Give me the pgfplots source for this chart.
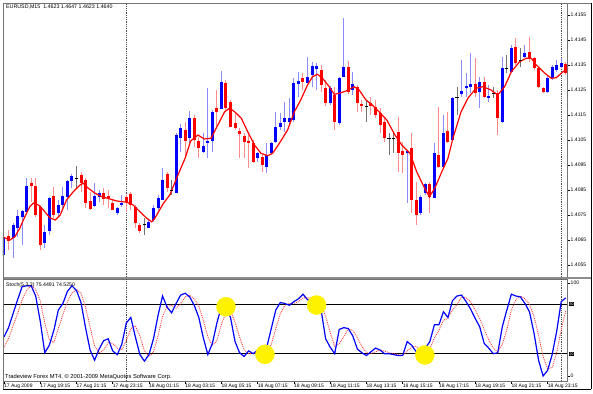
\documentclass[border=0pt]{standalone}
\usepackage{pgfplots}
\pgfplotsset{compat=1.18}
\usepackage{pgfplotstable}
\usepackage{fontspec}
\setmainfont{Liberation Sans}

% EURUSD M15 candles: bar index, open, high, low, close
\pgfplotstableread{
i o h l c
0 1.40590 1.40670 1.40530 1.40662
2 1.40658 1.40718 1.40578 1.40710
3 1.40698 1.40770 1.40662 1.40746
4 1.40742 1.40770 1.40630 1.40766
5 1.40762 1.40898 1.40762 1.40866
9 1.40638 1.40710 1.40618 1.40682
10 1.40686 1.40822 1.40670 1.40818
12 1.40758 1.40810 1.40742 1.40790
13 1.40790 1.40862 1.40770 1.40826
14 1.40822 1.40890 1.40770 1.40886
15 1.40886 1.40914 1.40858 1.40906
20 1.40786 1.40878 1.40782 1.40826
21 1.40822 1.40850 1.40802 1.40838
25 1.40758 1.40782 1.40750 1.40778
26 1.40790 1.40830 1.40782 1.40798
32 1.40698 1.40730 1.40698 1.40722
33 1.40730 1.40790 1.40722 1.40778
34 1.40778 1.40830 1.40770 1.40818
35 1.40810 1.40938 1.40810 1.40890
38 1.40838 1.41078 1.40838 1.41070
39 1.41058 1.41114 1.41002 1.41098
41 1.41058 1.41166 1.41038 1.41138
44 1.41002 1.41078 1.40998 1.41026
45 1.41038 1.41258 1.40978 1.41046
46 1.41046 1.41170 1.41002 1.41162
48 1.41174 1.41326 1.41174 1.41282
56 1.40978 1.41002 1.40962 1.40998
58 1.40942 1.41038 1.40918 1.40990
59 1.40998 1.41042 1.40990 1.41038
60 1.41042 1.41162 1.41038 1.41102
61 1.41102 1.41158 1.41090 1.41118
62 1.41122 1.41202 1.41082 1.41138
63 1.41122 1.41218 1.41110 1.41138
64 1.41130 1.41298 1.41122 1.41278
65 1.41274 1.41322 1.41222 1.41286
67 1.41278 1.41382 1.41278 1.41302
68 1.41310 1.41362 1.41262 1.41346
69 1.41334 1.41358 1.41250 1.41346
72 1.41198 1.41266 1.41190 1.41258
74 1.41118 1.41302 1.41110 1.41298
75 1.41302 1.41538 1.41302 1.41342
77 1.41250 1.41322 1.41230 1.41274
89 1.40998 1.41010 1.40798 1.41006
92 1.40758 1.40830 1.40750 1.40822
93 1.40838 1.40878 1.40830 1.40874
95 1.40818 1.41038 1.40818 1.40998
97 1.40942 1.41150 1.40938 1.41078
99 1.41050 1.41222 1.41050 1.41218
101 1.41234 1.41370 1.41222 1.41246
102 1.41258 1.41318 1.41222 1.41266
103 1.41262 1.41398 1.41238 1.41274
105 1.41242 1.41302 1.41178 1.41282
107 1.41218 1.41270 1.41202 1.41226
110 1.41122 1.41382 1.41118 1.41338
112 1.41322 1.41430 1.41322 1.41418
115 1.41382 1.41430 1.41378 1.41398
120 1.41242 1.41310 1.41238 1.41298
121 1.41298 1.41350 1.41290 1.41342
122 1.41330 1.41370 1.41322 1.41350
123 1.41342 1.41378 1.41338 1.41358
}\upcandles

\pgfplotstableread{
i o h l c
1 1.40666 1.40690 1.40610 1.40646
6 1.40878 1.40898 1.40802 1.40866
7 1.40866 1.40898 1.40742 1.40750
8 1.40782 1.40790 1.40610 1.40630
11 1.40826 1.40862 1.40738 1.40750
17 1.40910 1.40922 1.40842 1.40878
18 1.40890 1.40898 1.40778 1.40798
19 1.40806 1.40842 1.40770 1.40774
22 1.40838 1.40858 1.40790 1.40814
23 1.40826 1.40850 1.40778 1.40814
24 1.40798 1.40810 1.40770 1.40770
27 1.40822 1.40830 1.40762 1.40802
28 1.40834 1.40842 1.40770 1.40790
29 1.40782 1.40790 1.40698 1.40718
30 1.40710 1.40718 1.40678 1.40686
36 1.40914 1.40922 1.40842 1.40858
40 1.41090 1.41122 1.40978 1.41046
42 1.41138 1.41150 1.41022 1.41050
43 1.41046 1.41062 1.40978 1.41018
47 1.41178 1.41250 1.41102 1.41162
49 1.41278 1.41290 1.41170 1.41178
50 1.41202 1.41210 1.41102 1.41102
51 1.41118 1.41158 1.41090 1.41098
52 1.41086 1.41098 1.40978 1.41074
53 1.41066 1.41078 1.40978 1.41042
54 1.41046 1.41070 1.40938 1.41038
55 1.41038 1.41050 1.40958 1.40962
57 1.40982 1.40990 1.40922 1.40950
66 1.41298 1.41318 1.41250 1.41282
70 1.41330 1.41350 1.41242 1.41270
71 1.41258 1.41290 1.41186 1.41198
73 1.41230 1.41262 1.41090 1.41122
76 1.41342 1.41366 1.41234 1.41242
78 1.41262 1.41270 1.41162 1.41198
79 1.41194 1.41210 1.41162 1.41186
81 1.41198 1.41222 1.41150 1.41186
82 1.41182 1.41210 1.41138 1.41150
83 1.41158 1.41178 1.41078 1.41110
84 1.41122 1.41142 1.41042 1.41058
87 1.41082 1.41142 1.40922 1.40998
88 1.41006 1.41042 1.40918 1.40990
90 1.41018 1.41078 1.40758 1.40810
91 1.40810 1.40882 1.40710 1.40750
94 1.40874 1.40882 1.40758 1.40822
96 1.40990 1.41182 1.40938 1.40942
98 1.41086 1.41162 1.41038 1.41042
104 1.41274 1.41378 1.41222 1.41238
106 1.41282 1.41302 1.41218 1.41222
109 1.41238 1.41250 1.41070 1.41138
113 1.41422 1.41458 1.41350 1.41358
116 1.41402 1.41462 1.41362 1.41378
117 1.41378 1.41382 1.41330 1.41338
118 1.41338 1.41342 1.41258 1.41262
119 1.41258 1.41262 1.41238 1.41242
124 1.41354 1.41362 1.41310 1.41318
}\downcandles

\pgfplotstableread{
i o h l c
16 1.40898 1.40946 1.40858 1.40898
31 1.40714 1.40738 1.40670 1.40714
37 1.40850 1.40890 1.40830 1.40850
80 1.41186 1.41210 1.41122 1.41186
85 1.41058 1.41078 1.40990 1.41058
86 1.41058 1.41078 1.40998 1.41058
100 1.41222 1.41262 1.41150 1.41222
108 1.41238 1.41262 1.41218 1.41238
111 1.41338 1.41390 1.41318 1.41338
114 1.41370 1.41418 1.41342 1.41370
}\dojicandles

\pgfplotsset{
  mt/.style={scale only axis, width=564pt,
    xmin=-0.22, xmax=124.28,
    axis line style={black!55, line width=0.8pt},
    tick style={black, line width=0.5pt},
    tick align=outside, major tick length=2.5pt,
    ticklabel style={font=\fontsize{5.1}{6}\selectfont},
    scaled y ticks=false},
}

\begin{document}
\begin{tikzpicture}

% ---------------- main price window ----------------
\begin{axis}[mt, at={(3pt,116pt)}, anchor=south west, height=274pt,
  ymin=1.40502, ymax=1.41598,
  xtick=\empty,
  ytick={1.4055,1.4065,1.4075,1.4085,1.4095,1.4105,1.4115,1.4125,1.4135,1.4145,1.4155},
  yticklabels={1.4055,1.4065,1.4075,1.4085,1.4095,1.4105,1.4115,1.4125,1.4135,1.4145,1.4155},
  ytick pos=right, yticklabel pos=right,
  yticklabel style={anchor=west, inner sep=1pt}]
\addplot[black!70, densely dotted, line width=0.8pt] coordinates {(27,1.40502) (27,1.41598)};
\addplot[black!70, densely dotted, line width=0.8pt] coordinates {(123,1.40502) (123,1.41598)};
% wicks (low to high)
\addplot[blue!45, line width=1pt, quiver={u=0, v=\thisrow{h}-\thisrow{l}}] table[x=i, y=l] {\upcandles};
\addplot[red!45, line width=1pt, quiver={u=0, v=\thisrow{h}-\thisrow{l}}] table[x=i, y=l] {\downcandles};
\addplot[black!55, line width=1pt, quiver={u=0, v=\thisrow{h}-\thisrow{l}}] table[x=i, y=l] {\dojicandles};
% bodies (open to close)
\addplot[blue, line width=3pt, quiver={u=0, v=\thisrow{c}-\thisrow{o}}] table[x=i, y=o] {\upcandles};
\addplot[red, line width=3pt, quiver={u=0, v=\thisrow{c}-\thisrow{o}}] table[x=i, y=o] {\downcandles};
\addplot[only marks, mark=-, mark size=1.6pt, black, line width=0.8pt] table[x=i, y=c] {\dojicandles};
% moving average
\addplot[red, line width=1.2pt] coordinates {
(-0.22,1.40662)(1.3,1.40650)(2.4,1.40663)(3.5,1.40698)(4.6,1.40743)(5.7,1.40783)(6.5,1.40798)(7.6,1.40790)(8.7,1.40770)(10.1,1.40739)(11.3,1.40730)(12.4,1.40750)(13.8,1.40810)(15.3,1.40843)(16.8,1.40870)(17.5,1.40877)(18.6,1.40857)(20.1,1.40837)(21.6,1.40823)(23.4,1.40814)(24.9,1.40806)(27.1,1.40801)(28.5,1.40790)(30,1.40763)(31.5,1.40737)(32.6,1.40723)(33.3,1.40737)(35.2,1.40797)(36.6,1.40830)(38.1,1.40897)(40,1.40978)(41.2,1.41046)(42.8,1.41070)(44.2,1.41054)(45.7,1.41057)(47.2,1.41110)(48.7,1.41163)(49.8,1.41177)(50.9,1.41163)(52.4,1.41137)(53.8,1.41083)(55.3,1.41030)(56.7,1.40997)(58.2,1.40987)(59.3,1.40997)(60.8,1.41037)(62.6,1.41090)(64.1,1.41163)(65.5,1.41210)(67,1.41270)(68.1,1.41303)(69.2,1.41313)(70.3,1.41297)(71.8,1.41263)(72.9,1.41233)(74,1.41237)(75.5,1.41246)(77.3,1.41263)(78.4,1.41250)(79.9,1.41210)(81.3,1.41190)(82.8,1.41163)(84.5,1.41130)(86.3,1.41070)(87.8,1.41030)(89.6,1.40997)(91.1,1.40923)(92.5,1.40870)(93.9,1.40823)(95.1,1.40857)(96.5,1.40917)(98,1.40977)(99.1,1.41057)(100.9,1.41163)(102.4,1.41217)(104.2,1.41257)(105.7,1.41263)(107.5,1.41250)(109,1.41230)(110.5,1.41263)(112,1.41323)(113.8,1.41363)(115.3,1.41377)(116.4,1.41377)(117.5,1.41350)(119.4,1.41317)(120.8,1.41297)(121.9,1.41299)(123.4,1.41323)(124.28,1.41333)};
\end{axis}

% ---------------- stochastic window ----------------
\begin{axis}[mt, at={(3pt,12pt)}, anchor=south west, height=102pt,
  ymin=-5.38, ymax=104.3,
  ytick={0,100}, yticklabels={0,100},
  ytick pos=right, yticklabel pos=right,
  yticklabel style={anchor=west, inner sep=1pt},
  xtick={0,8,16,24,32,40,48,56,64,72,80,88,96,104,112,120},
  xticklabels={17 Aug 2009,17 Aug 19:15,17 Aug 21:15,17 Aug 23:15,18 Aug 01:15,18 Aug 03:15,18 Aug 05:15,18 Aug 07:15,18 Aug 09:15,18 Aug 11:15,18 Aug 13:15,18 Aug 15:15,18 Aug 17:15,18 Aug 19:15,18 Aug 21:15,18 Aug 23:15},
  xtick pos=bottom,
  xticklabel style={anchor=north west, inner sep=0.5pt, xshift=-0.5pt, font=\fontsize{5}{6}\selectfont}]
\addplot[only marks, mark=*, mark size=9.5pt, color=yellow, fill=yellow] coordinates {(49,74.5) (57.6,23.3) (69,76.3) (92.9,22.6)};
\addplot[black, line width=1pt] coordinates {(-0.22,77.4) (124.28,77.4)};
\addplot[black, line width=1pt] coordinates {(-0.22,23.7) (124.28,23.7)};
\addplot[black!70, densely dotted, line width=0.8pt] coordinates {(27,-5.38) (27,104.3)};
\addplot[black!70, densely dotted, line width=0.8pt] coordinates {(123,-5.38) (123,104.3)};
% signal line
\addplot[red!75, densely dotted, line width=0.9pt] coordinates {
(0,31)(1,40)(2,54)(3,67)(4,82)(5,92)(6,97)(7,93)(8,81)(9,57)(10,39)(11,36)(12,51)(13,66)(14,80)(15,89)(16,93)(17,89)(18,74)(19,53)(20,32)(21,25)(22,28)(23,36)(24,35)(25,30)(26,28)(27,38)(28,51)(29,54)(30,43)(31,27)(32,21)(33,26)(34,43)(35,64)(36,75)(37,76)(38,73)(39,78)(40,85)(41,87)(42,83)(43,75)(44,60)(45,42)(46,33)(47,38)(48,56)(49,68)(50,70)(51,58)(52,42)(53,28)(54,24)(55,24)(56,26)(57,24)(58,26)(59,34)(60,51)(61,67)(62,76)(63,78)(64,78)(65,80)(66,84)(67,84)(68,84)(69,81)(70,77)(71,64)(72,47)(73,32)(74,35)(75,42)(76,51)(77,49)(78,41)(79,32)(80,25)(81,24)(82,26)(83,28)(84,27)(85,25)(86,24)(87,23)(88,22)(89,27)(90,31)(91,32)(92,26)(93,25)(94,29)(95,41)(96,49)(97,60)(98,62)(99,71)(100,77)(101,85)(102,84)(103,80)(104,71)(105,62)(106,50)(107,39)(108,30)(109,26)(110,34)(111,50)(112,71)(113,82)(114,86)(115,83)(116,77)(117,64)(118,44)(119,21)(120,8)(121,9)(122,25)(123,50)(124,70)};
% main line
\addplot[blue, line width=1.2pt] coordinates {
(0,42)(1,52)(2,67)(3,82)(4,96)(5,97)(6,97)(7,86)(8,59)(9,25)(10,33)(11,49)(12,71)(13,78)(14,91)(15,97)(16,92)(17,79)(18,52)(19,28)(20,17)(21,29)(22,38)(23,40)(24,27)(25,23)(26,34)(27,57)(28,63)(29,42)(30,23)(31,16)(32,23)(33,40)(34,65)(35,86)(36,74)(37,68)(38,78)(39,87)(40,89)(41,85)(42,76)(43,63)(44,41)(45,23)(46,35)(47,57)(48,75)(49,73)(50,63)(51,37)(52,25)(53,21)(54,27)(55,24)(56,28)(57,19)(58,31)(59,51)(60,71)(61,79)(62,78)(63,76)(64,80)(65,83)(66,88)(67,82)(68,81)(69,80)(70,71)(71,40)(72,31)(73,24)(74,50)(75,52)(76,51)(77,43)(78,29)(79,25)(80,22)(81,26)(82,30)(83,28)(84,24)(85,24)(86,23)(87,22)(88,22)(89,37)(90,33)(91,26)(92,19)(93,30)(94,37)(95,55)(96,55)(97,69)(98,63)(99,81)(100,86)(101,87)(102,80)(103,72)(104,62)(105,53)(106,35)(107,30)(108,24)(109,25)(110,53)(111,71)(112,88)(113,86)(114,85)(115,78)(116,69)(117,46)(118,17)(119,0)(120,6)(121,23)(122,48)(123,80)(124,84)};
\end{axis}

% frame and separators
\draw[black!45, line width=2.5pt] (3pt,115pt) -- (591pt,115pt);
\draw[black!55, line width=0.8pt] (3pt,390pt) -- (591pt,390pt);
\draw[black!55, line width=0.8pt] (3pt,4pt) -- (3pt,390pt);
\draw[black, line width=0.9pt] (591pt,4pt) -- (591pt,390pt);
\draw[black, line width=0.9pt] (3pt,4pt) -- (591pt,4pt);

% level boxes
\node[fill=black, text=white, inner sep=0.4pt, font=\fontsize{3.6}{4}\selectfont, anchor=west] at (569pt,89pt) {80};
\node[fill=black, text=white, inner sep=0.4pt, font=\fontsize{3.6}{4}\selectfont, anchor=west] at (569pt,39pt) {20};

% texts
\node[anchor=west, inner sep=0pt, font=\fontsize{5.3}{6}\selectfont] at (6pt,386.5pt) {EURUSD,M15\ \ 1.4623 1.4647 1.4623 1.4640};
\node[anchor=west, inner sep=0pt, font=\fontsize{5.2}{6}\selectfont] at (6pt,108pt) {Stoch(5,3,3) 75.4491 74.5250};
\node[anchor=west, inner sep=0pt, font=\fontsize{5.8}{7}\selectfont] at (5pt,16pt) {Tradeview Forex MT4, © 2001-2009 MetaQuotes Software Corp.};

\pgfresetboundingbox
\useasboundingbox (0pt,0pt) rectangle (593pt,393pt);
\end{tikzpicture}
\end{document}
